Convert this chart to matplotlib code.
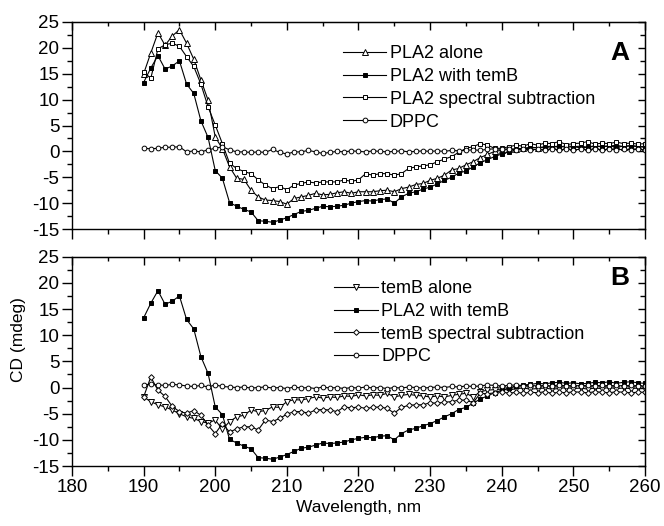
import matplotlib
matplotlib.use("Agg")
import matplotlib.pyplot as plt
import numpy as np
from matplotlib.ticker import MultipleLocator

plt.rcParams['font.family'] = ['Liberation Sans', 'DejaVu Sans']
plt.rcParams['axes.unicode_minus'] = False

# CD spectra, one reading per nm from 190 to 260 nm
wavelength = np.arange(190, 261)

pla2_alone = [15.0, 19.0, 22.9, 20.5, 22.3, 23.5, 20.9, 17.8, 13.8, 9.9,
              2.8, 0.5, -3.0, -5.2, -5.4, -7.5, -8.8, -9.4, -9.5, -9.7,
              -10.2, -9.1, -8.8, -8.5, -8.1, -8.4, -8.3, -8.0, -7.8, -8.1,
              -7.8, -7.8, -7.8, -7.6, -7.5, -7.8, -7.2, -6.9, -6.4, -6.2,
              -5.6, -5.2, -4.6, -3.6, -3.3, -2.6, -2.0, -1.2, -0.6, 0.0,
              0.2, 0.4, 0.5, 0.6, 0.8, 0.7, 0.9, 1.0, 0.8, 1.1,
              0.9, 1.0, 0.8, 1.1, 0.9, 1.0, 1.2, 0.9, 1.1, 1.0,
              0.9]

pla2_with_temb = [13.3, 16.1, 18.5, 15.9, 16.5, 17.5, 13.0, 11.2, 5.9, 2.7,
                  -3.7, -5.2, -9.9, -10.6, -11.2, -11.7, -13.4, -13.5, -13.7, -13.3,
                  -12.8, -12.2, -11.6, -11.4, -11.0, -10.6, -10.7, -10.6, -10.4, -10.0,
                  -9.7, -9.5, -9.6, -9.3, -9.2, -10.0, -8.8, -8.1, -7.8, -7.3,
                  -6.9, -6.3, -5.6, -5.0, -4.2, -3.8, -3.0, -2.2, -1.6, -1.0,
                  -0.5, -0.1, 0.3, 0.5, 0.6, 0.8, 0.7, 0.9, 1.0, 0.8,
                  0.9, 0.7, 0.8, 1.0, 0.9, 1.1, 0.8, 1.0, 1.1, 0.9,
                  0.8]

pla2_subtraction = [15.4, 14.1, 19.8, 20.6, 20.9, 20.3, 18.3, 16.4, 13.0, 8.6,
                    5.1, 1.5, -2.3, -3.3, -3.9, -4.3, -5.5, -6.5, -7.2, -6.8,
                    -7.4, -6.5, -6.2, -5.9, -6.1, -5.9, -5.9, -5.9, -5.5, -5.8,
                    -5.5, -4.3, -4.6, -4.3, -4.3, -4.6, -4.3, -3.3, -3.0, -2.8,
                    -2.6, -2.0, -1.5, -1.0, -0.2, 0.6, 0.9, 1.5, 1.2, 0.6,
                    0.6, 0.9, 1.2, 1.0, 1.5, 1.2, 1.6, 1.5, 1.9, 1.3,
                    1.5, 1.6, 1.9, 1.4, 1.6, 1.5, 1.8, 1.5, 1.6, 1.4,
                    1.5]

dppc_a = [0.6, 0.5, 0.6, 0.8, 0.8, 0.9, -0.1, 0.1, -0.1, 0.3,
          0.6, 0.9, 0.3, -0.1, -0.1, -0.2, -0.1, -0.2, 0.4, -0.2,
          -0.5, -0.1, -0.1, 0.2, -0.1, -0.4, -0.2, 0.0, -0.1, 0.1,
          0.0, -0.1, 0.1, 0.0, -0.1, 0.0, 0.1, -0.1, 0.0, 0.1,
          0.0, 0.1, 0.0, 0.2, 0.1, 0.2, 0.3, 0.2, 0.4, 0.5,
          0.4, 0.5, 0.3, 0.4, 0.3, 0.4, 0.3, 0.5, 0.3, 0.4,
          0.3, 0.4, 0.3, 0.5, 0.3, 0.4, 0.3, 0.4, 0.3, 0.4,
          0.3]

temb_alone = [-1.8, -2.7, -3.3, -3.7, -4.3, -5.0, -5.6, -5.9, -6.5, -6.8,
              -6.2, -8.0, -6.5, -5.6, -5.3, -4.3, -4.6, -4.4, -3.7, -3.8,
              -2.7, -2.3, -2.4, -2.1, -1.8, -2.0, -1.8, -1.9, -1.6, -1.7,
              -1.4, -1.6, -1.4, -1.5, -1.1, -1.8, -1.5, -1.3, -1.5, -1.6,
              -1.8, -1.6, -1.8, -1.5, -1.3, -1.1, -1.8, -0.8, -0.5, -0.4,
              -0.3, -0.5, -0.2, -0.1, -0.3, -0.2, -0.1, -0.3, -0.2, 0.0,
              -0.2, -0.1, -0.3, -0.1, -0.2, 0.0, -0.2, -0.1, -0.2, -0.1,
              -0.2]

temb_subtraction = [-1.8, 2.0, -0.5, -1.7, -3.6, -4.6, -4.9, -4.4, -5.3, -7.2,
                    -8.8, -6.9, -8.5, -7.9, -7.5, -7.5, -8.1, -6.2, -6.5, -5.9,
                    -5.1, -4.6, -4.6, -4.9, -4.3, -4.2, -4.3, -4.6, -3.7, -3.9,
                    -3.7, -4.0, -3.8, -3.7, -4.0, -4.9, -3.8, -3.4, -3.3, -3.3,
                    -2.9, -3.0, -2.8, -2.7, -2.4, -2.4, -2.9, -1.1, -1.2, -1.0,
                    -0.8, -1.1, -0.9, -1.1, -0.9, -1.0, -0.8, -1.1, -0.9, -1.0,
                    -0.8, -0.9, -1.0, -0.8, -0.9, -1.0, -0.8, -0.9, -1.0, -0.9,
                    -0.9]

dppc_b = [0.5, 0.6, 0.5, 0.4, 0.6, 0.5, 0.3, 0.2, 0.4, 0.1,
          0.5, 0.2, 0.1, 0.0, 0.1, -0.1, 0.0, 0.1, -0.1, 0.0,
          -0.2, 0.1, -0.1, 0.0, -0.2, 0.1, -0.1, 0.0, -0.2, 0.0,
          -0.1, 0.1, -0.1, 0.0, -0.2, 0.0, -0.1, 0.1, 0.0, -0.1,
          0.0, 0.1, 0.0, 0.2, 0.1, 0.3, 0.2, 0.3, 0.5, 0.4,
          0.3, 0.4, 0.5, 0.3, 0.4, 0.3, 0.4, 0.3, 0.5, 0.3,
          0.4, 0.3, 0.4, 0.3, 0.4, 0.3, 0.4, 0.3, 0.4, 0.3,
          0.3]

# (label, values, marker, face colour, marker size)
panel_a = [
    ("PLA2 alone", pla2_alone, "^", "white", 3.8),
    ("PLA2 with temB", pla2_with_temb, "s", "black", 3.4),
    ("PLA2 spectral subtraction", pla2_subtraction, "s", "white", 3.4),
    ("DPPC", dppc_a, "o", "white", 3.4),
]
panel_b = [
    ("temB alone", temb_alone, "v", "white", 3.8),
    ("PLA2 with temB", pla2_with_temb, "s", "black", 3.4),
    ("temB spectral subtraction", temb_subtraction, "D", "white", 2.9),
    ("DPPC", dppc_b, "o", "white", 3.4),
]


def style_axes(ax, show_xlabels):
    ax.set_xlim(180, 260)
    ax.set_ylim(-15, 25)
    ax.xaxis.set_major_locator(MultipleLocator(10))
    ax.xaxis.set_minor_locator(MultipleLocator(5))
    ax.yaxis.set_major_locator(MultipleLocator(5))
    ax.yaxis.set_minor_locator(MultipleLocator(2.5))
    for s in ax.spines.values():
        s.set_linewidth(1.0)
    # outward ticks on bottom/left
    ax.tick_params(which='both', direction='out', top=False, right=False,
                   labelsize=13.5, width=1.0, pad=2)
    ax.tick_params(which='major', length=7)
    ax.tick_params(which='minor', length=3.5)
    if not show_xlabels:
        ax.tick_params(axis='x', labelbottom=False)
    # inward ticks on top/right
    top = ax.secondary_xaxis('top')
    top.xaxis.set_major_locator(MultipleLocator(10))
    top.xaxis.set_minor_locator(MultipleLocator(5))
    top.tick_params(which='both', direction='in', labeltop=False, width=1.0)
    top.tick_params(which='major', length=6)
    top.tick_params(which='minor', length=3)
    right = ax.secondary_yaxis('right')
    right.yaxis.set_major_locator(MultipleLocator(5))
    right.yaxis.set_minor_locator(MultipleLocator(2.5))
    right.tick_params(which='both', direction='in', labelright=False, width=1.0)
    right.tick_params(which='major', length=5)
    right.tick_params(which='minor', length=3.5)


def draw_panel(ax, series, letter, legend_anchor, letter_y):
    for label, values, marker, face, size in series:
        ax.plot(wavelength, values, color='black', lw=0.8, marker=marker,
                markersize=size, markerfacecolor=face, markeredgecolor='black',
                markeredgewidth=0.7, label=label)
    ax.legend(loc='upper left', bbox_to_anchor=legend_anchor, frameon=False,
              fontsize=13, numpoints=1, handlelength=2.4, handletextpad=0.2,
              labelspacing=0.32, borderpad=0, borderaxespad=0)
    ax.text(0.956, letter_y, letter, transform=ax.transAxes, fontsize=19,
            fontweight='bold', ha='center', va='center')


fig = plt.figure(figsize=(6.64, 5.26), dpi=100)
ax_a = fig.add_axes([0.1084, 0.5646, 0.863, 0.3936])
ax_b = fig.add_axes([0.1084, 0.1140, 0.863, 0.3980])

draw_panel(ax_a, panel_a, "A", (0.473, 0.888), 0.85)
draw_panel(ax_b, panel_b, "B", (0.458, 0.888), 0.90)
style_axes(ax_a, False)
style_axes(ax_b, True)

ax_b.set_xlabel("Wavelength, nm", fontsize=12.5, labelpad=3)
fig.text(19 / 664, 1 - 340 / 526, "CD (mdeg)", rotation=90, fontsize=12.5,
         ha='center', va='center')

fig.savefig("out.png", dpi=100)
